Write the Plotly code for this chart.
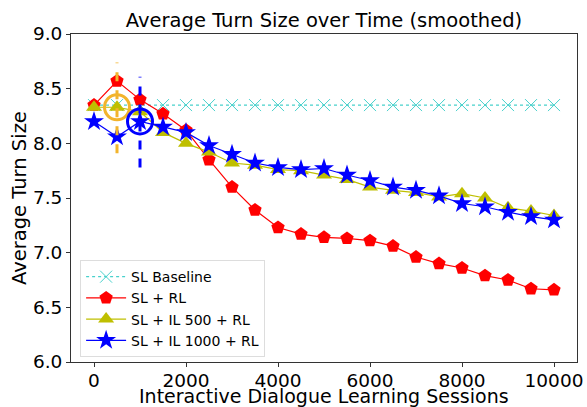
import plotly.graph_objects as go

sessions = [0, 500, 1000, 1500, 2000, 2500, 3000, 3500, 4000, 4500, 5000,
            5500, 6000, 6500, 7000, 7500, 8000, 8500, 9000, 9500, 10000]
sl_baseline = [8.35] * 21
sl_rl = [8.35, 8.57, 8.40, 8.27, 8.12, 7.85, 7.60, 7.39, 7.23, 7.17, 7.14,
         7.13, 7.11, 7.06, 6.96, 6.90, 6.86, 6.79, 6.75, 6.67, 6.66]
sl_il500_rl = [8.33, 8.33, 8.29, 8.10, 8.00, 7.92, 7.82, 7.80, 7.76, 7.75, 7.71,
               7.67, 7.60, 7.57, 7.55, 7.51, 7.54, 7.50, 7.41, 7.38, 7.34]
sl_il1000_rl = [8.20, 8.06, 8.20, 8.15, 8.10, 7.98, 7.90, 7.82, 7.78, 7.76, 7.77,
                7.71, 7.66, 7.60, 7.57, 7.52, 7.45, 7.42, 7.37, 7.33, 7.30]

x_ticks = [0, 2000, 4000, 6000, 8000, 10000]
x_tick_labels = ["0", "2000", "4000", "6000", "8000", "10000"]
y_ticks = [6.0, 6.5, 7.0, 7.5, 8.0, 8.5, 9.0]

# switch points (IL 500 and IL 1000) with their marker circles and spread bars
switch_x = [500, 1000]
switch_y = [8.33, 8.20]
switch_low = [7.91, 7.78]
switch_high = [8.74, 8.61]
switch_colors = ["#F2B42C", "#0000FF"]

fig = go.Figure()
fig.add_trace(go.Scatter(
    x=sessions, y=sl_baseline, name="SL Baseline", mode="lines+markers",
    line=dict(color="#48D1CC", width=1.2, dash="dot"),
    marker=dict(symbol="x-thin-open", size=12, color="#48D1CC",
                line=dict(color="#48D1CC", width=1))))
fig.add_trace(go.Scatter(
    x=sessions, y=sl_rl, name="SL + RL", mode="lines+markers",
    line=dict(color="#FF0000", width=1.2),
    marker=dict(symbol="pentagon", size=14, color="#FF0000")))
fig.add_trace(go.Scatter(
    x=sessions, y=sl_il500_rl, name="SL + IL 500 + RL", mode="lines+markers",
    line=dict(color="#BFBF00", width=1.2),
    marker=dict(symbol="triangle-up", size=14, color="#BFBF00")))
fig.add_trace(go.Scatter(
    x=sessions, y=sl_il1000_rl, name="SL + IL 1000 + RL", mode="lines+markers",
    line=dict(color="#0000FF", width=1.2),
    marker=dict(symbol="star", size=15, color="#0000FF")))

for xs, yc, lo, hi, col in zip(switch_x, switch_y, switch_low, switch_high, switch_colors):
    fig.add_trace(go.Scatter(
        x=[xs, xs], y=[lo, hi], mode="lines", showlegend=False,
        line=dict(color=col, width=3, dash="dash"), hoverinfo="skip"))
    fig.add_trace(go.Scatter(
        x=[xs], y=[yc], mode="markers", showlegend=False,
        marker=dict(symbol="circle-open", size=25, color=col, line=dict(color=col, width=3)),
        hoverinfo="skip"))

axis_common = dict(showline=True, linecolor="#333333", linewidth=1, mirror=True,
                   ticks="outside", ticklen=4, tickcolor="#333333", showgrid=False,
                   zeroline=False, automargin=False, tickfont=dict(size=18.5, color="black"))

fig.update_layout(
    width=587, height=407,
    margin=dict(l=71, r=10, t=34, b=45),
    paper_bgcolor="white", plot_bgcolor="white",
    font=dict(family="DejaVu Sans", color="black"),
    title=dict(text="Average Turn Size over Time (smoothed)", xref="paper", x=0.5,
               xanchor="center", y=0.95, yanchor="middle", font=dict(size=19.5)),
    xaxis=dict(range=[-500, 10500], tickvals=x_ticks, ticktext=x_tick_labels,
               ticklabelstandoff=-2, **axis_common),
    yaxis=dict(range=[6.0, 9.0], tickvals=y_ticks, tickformat=".1f", **axis_common),
    legend=dict(x=0.018, y=0.015, xanchor="left", yanchor="bottom",
                bgcolor="rgba(255,255,255,0.8)", bordercolor="#DDDDDD", borderwidth=1,
                font=dict(size=14), tracegroupgap=0, itemwidth=40),
    annotations=[
        dict(text="Interactive Dialogue Learning Sessions", xref="paper", yref="paper",
             x=0.5, y=-0.104, xanchor="center", yanchor="middle", showarrow=False,
             font=dict(size=19)),
        dict(text="Average Turn Size", xref="paper", yref="paper", textangle=-90,
             x=-0.1028, y=0.5, xanchor="center", yanchor="middle", showarrow=False,
             font=dict(size=19.5)),
    ],
)

fig.write_html("out.html")
